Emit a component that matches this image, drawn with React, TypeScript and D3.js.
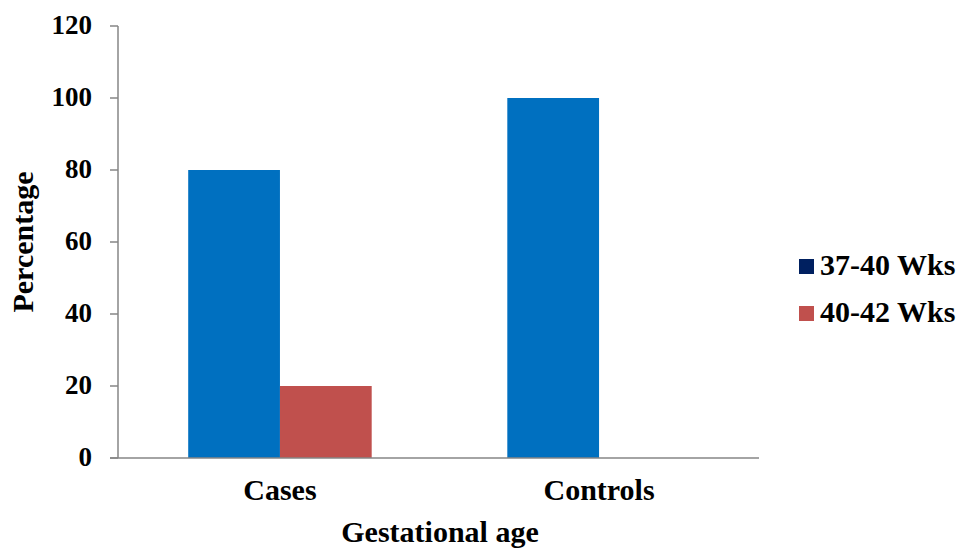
import React from "react";
import * as d3 from "d3";

const categories = ["Cases", "Controls"];
const seriesNames = ["37-40 Wks", "40-42 Wks"];
const series1 = [80, 100];
const series2 = [20, 0];
const yTicks = [0, 20, 40, 60, 80, 100, 120];

const barColors = ["#0070C0", "#C0504D"];
const legendColors = ["#002060", "#C0504D"];

const FONT = "Times New Roman, Liberation Serif, Tinos, serif";

export default function App() {
  const width = 961;
  const height = 550;
  const margin = { left: 118, top: 26 };
  const plotRight = 759;
  const plotBottom = 458;

  const x0 = d3.scaleBand().domain(categories).range([margin.left, 761]).paddingInner(0.425).paddingOuter(0.22);
  const x1 = d3.scaleBand().domain(seriesNames).range([0, x0.bandwidth()]);
  const y = d3.scaleLinear().domain([0, 120]).range([plotBottom, margin.top]);

  const values = [series1, series2];
  const axisColor = "#868686";

  return (
    <svg
      width={width}
      height={height}
      style={{ display: "block", position: "absolute", left: 0, top: 0, background: "#fff", fontFamily: FONT, fontWeight: 700 }}
    >
      {/* bars */}
      {categories.map((c, ci) =>
        seriesNames.map((s, si) => {
          const v = values[si][ci];
          return (
            <rect
              key={`${c}-${s}`}
              x={(x0(c) ?? 0) + (x1(s) ?? 0)}
              y={y(v)}
              width={x1.bandwidth()}
              height={plotBottom - y(v)}
              fill={barColors[si]}
            />
          );
        })
      )}
      {/* y axis */}
      <line x1={margin.left} x2={margin.left} y1={margin.top} y2={plotBottom} stroke={axisColor} strokeWidth={1.5} />
      {yTicks.map((t) => (
        <g key={t}>
          <line x1={margin.left - 8} x2={margin.left} y1={y(t)} y2={y(t)} stroke={axisColor} strokeWidth={1.5} />
          <text x={92} y={y(t)} dy="0.3em" textAnchor="end" fontSize={27}>
            {t}
          </text>
        </g>
      ))}
      {/* x axis */}
      <line x1={margin.left - 8} x2={plotRight} y1={plotBottom} y2={plotBottom} stroke={axisColor} strokeWidth={1.5} />
      {categories.map((c) => (
        <text key={c} x={(x0(c) ?? 0) + x0.bandwidth() / 2} y={500} textAnchor="middle" fontSize={30}>
          {c}
        </text>
      ))}
      <text x={440} y={542} textAnchor="middle" fontSize={30}>
        Gestational age
      </text>
      <text transform={`translate(33, ${(margin.top + plotBottom) / 2}) rotate(-90)`} textAnchor="middle" fontSize={30}>
        Percentage
      </text>
      {/* legend */}
      {seriesNames.map((s, i) => (
        <g key={s} transform={`translate(799, ${259 + i * 47})`}>
          <rect x={0} y={0} width={15} height={15} fill={legendColors[i]} />
          <text x={21} y={16} fontSize={30}>
            {s}
          </text>
        </g>
      ))}
    </svg>
  );
}
